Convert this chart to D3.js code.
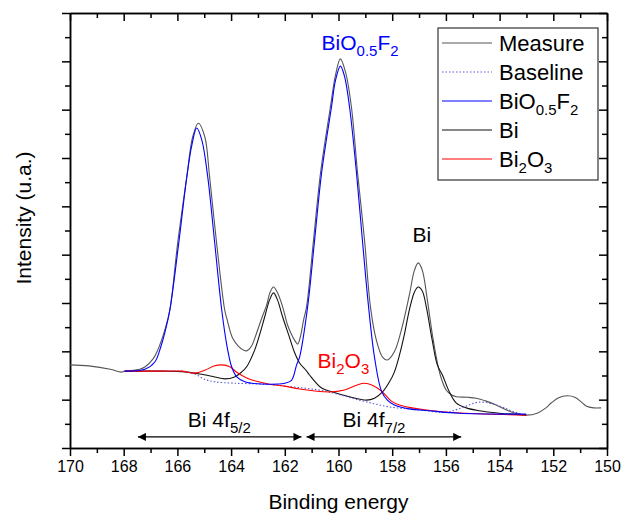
<!DOCTYPE html>
<html>
<head>
<meta charset="utf-8">
<script src="https://cdn.jsdelivr.net/npm/d3@7"></script>
<style>
  html, body { margin: 0; padding: 0; background: #fff; overflow: hidden; }
  svg { display: block; }
  text { font-family: "Liberation Sans", Arial, sans-serif; }
</style>
</head>
<body>
<svg id="svg_part"></svg>
<script>
const svg_width = 624;
const svg_height = 517;

// [binding energy, intensity]
const measure = [[170.0,1.72],[169.3,1.70],[168.5,1.63],[168.1,1.57],[167.96,1.59],[167.4,1.63],[167.2,1.68],[166.9,1.85],
  [166.73,2.03],[166.47,2.44],[166.28,2.86],[165.99,4.24],[165.65,5.61],[165.43,6.44],[165.22,6.72],[164.98,6.44],
  [164.80,5.61],[164.54,4.24],[164.24,2.86],[164.16,2.68],[163.95,2.28],[163.75,2.12],[163.55,2.03],[163.42,2.01],
  [163.25,2.10],[163.05,2.38],[162.85,2.70],[162.68,2.95],[162.55,3.22],[162.42,3.33],[162.28,3.22],[162.08,2.92],
  [161.9,2.55],[161.75,2.35],[161.6,2.20],[161.52,2.15],[161.42,2.30],[161.30,2.65],[161.19,2.92],[160.93,4.30],
  [160.67,5.69],[160.30,7.06],[160.11,7.72],[159.93,8.05],[159.74,7.78],[159.52,7.06],[159.29,5.69],[159.03,4.30],
  [158.81,2.92],[158.59,2.23],[158.36,1.88],[158.18,1.82],[157.92,1.99],[157.66,2.44],[157.36,3.17],[157.17,3.68],
  [157.03,3.83],[156.88,3.68],[156.69,3.06],[156.47,2.23],[156.21,1.51],[155.99,1.20],[155.8,1.10],[155.61,1.06],
  [155.2,1.05],[154.87,1.03],[154.5,0.97],[154.13,0.89],[153.8,0.80],[153.53,0.74],[153.01,0.68],[152.60,0.72],
  [152.3,0.82],[152.08,0.93],[151.8,1.04],[151.49,1.08],[151.2,1.05],[150.95,0.95],[150.78,0.87],[150.5,0.83],[150.22,0.83]];

const baseline = [[167.96,1.59],[166.5,1.59],[165.84,1.59],[165.35,1.53],[164.98,1.42],[164.61,1.37],[163.87,1.34],
  [162.75,1.32],[161.64,1.26],[160.52,1.18],[159.22,0.99],[158.10,0.85],[156.99,0.79],[155.99,0.74],[155.32,0.85],
  [154.76,0.95],[154.01,0.87],[153.53,0.76],[153.01,0.68]];

const bio = [[167.96,1.59],[167.21,1.63],[166.84,1.78],[166.62,2.09],[166.47,2.38],[166.28,2.86],[165.95,4.24],
  [165.65,5.61],[165.46,6.27],[165.28,6.62],[165.09,6.37],[164.87,5.61],[164.61,4.24],[164.35,2.86],[164.16,2.13],
  [163.98,1.68],[163.79,1.47],[163.49,1.37],[163.23,1.34],[162.57,1.32],[162.01,1.34],[161.75,1.40],[161.56,1.72],
  [161.45,1.88],[161.15,2.92],[160.89,4.30],[160.63,5.69],[160.26,7.06],[160.11,7.61],[159.93,7.90],[159.78,7.70],
  [159.59,7.06],[159.33,5.69],[159.11,4.30],[158.88,2.92],[158.66,1.88],[158.40,1.18],[158.18,0.99],[157.92,0.89],
  [157.36,0.81],[156.62,0.77],[155.50,0.72],[153.01,0.70]];

const bi = [[167.96,1.59],[166.5,1.59],[165.84,1.58],[165.17,1.53],[164.61,1.47],[164.24,1.43],[163.87,1.47],
  [163.61,1.57],[163.42,1.68],[163.12,2.03],[162.94,2.34],[162.75,2.71],[162.57,3.06],[162.42,3.21],[162.27,3.06],
  [162.08,2.71],[161.85,2.33],[161.64,1.98],[161.45,1.76],[161.2,1.60],[161.08,1.51],[160.63,1.24],[160.22,1.16],
  [159.59,1.06],[158.96,0.99],[158.66,1.03],[158.36,1.16],[158.10,1.37],[157.92,1.57],[157.73,1.92],[157.55,2.34],
  [157.36,2.86],[157.17,3.23],[157.03,3.33],[156.88,3.25],[156.73,2.92],[156.51,2.23],[156.32,1.72],[156.13,1.51],
  [155.87,1.16],[155.61,0.93],[155.24,0.83],[154.76,0.77],[154.01,0.72],[153.01,0.68]];

const bi2o3 = [[167.96,1.59],[166.5,1.59],[165.84,1.59],[165.35,1.55],[164.98,1.61],[164.61,1.70],[164.35,1.72],
  [164.05,1.68],[163.75,1.55],[163.42,1.45],[163.12,1.39],[162.57,1.32],[162.01,1.28],[161.45,1.22],[160.33,1.16],
  [159.78,1.20],[159.33,1.30],[159.03,1.34],[158.74,1.30],[158.40,1.18],[158.03,0.97],[157.73,0.89],[156.51,0.77],
  [155.24,0.72],[153.01,0.68]];

const xTicks = [170, 168, 166, 164, 162, 160, 158, 156, 154, 152, 150];
const legendNames = ['Measure', 'Baseline', 'BiO0.5F2', 'Bi', 'Bi2O3'];

const svg = d3.select('#svg_part')
	.attr('width', svg_width)
	.attr('height', svg_height);

const margin = {top: 13, right: 17, bottom: 69, left: 70};
const innerWidth = svg_width - margin.left - margin.right;
const innerHeight = svg_height - margin.top - margin.bottom;

const g = svg.append('g').attr('transform', `translate(${margin.left}, ${margin.top})`);

const x = d3.scaleLinear().domain([170, 150]).range([0, innerWidth]);
const y = d3.scaleLinear().domain([0, 9]).range([innerHeight, 0]);

const minorX = d3.range(151, 170, 2);
const majorY = d3.range(0, 10, 1);
const minorY = d3.range(0.5, 9, 1);

// axes: bottom/left ticks out, top/right ticks in
function styleAxis(sel){
	sel.selectAll('path').attr('stroke', '#000').attr('stroke-width', 1.5);
	sel.selectAll('line').attr('stroke', '#000').attr('stroke-width', 1.5);
	sel.selectAll('text').attr('font-size', '16px').attr('fill', '#000')
		.attr('font-family', '"Liberation Sans", Arial, sans-serif');
}
function noLabels(sel){
	styleAxis(sel);
	sel.selectAll('text').remove();
}
g.append('g').attr('transform', `translate(0, ${innerHeight})`)
	.call(d3.axisBottom(x).tickValues(xTicks).tickSize(8).tickSizeOuter(0).tickPadding(5).tickFormat(d3.format('d')))
	.call(styleAxis);
g.append('g').attr('transform', `translate(0, ${innerHeight})`)
	.call(d3.axisBottom(x).tickValues(minorX).tickSize(5).tickSizeOuter(0))
	.call(noLabels);
g.append('g')
	.call(d3.axisTop(x).tickValues(xTicks).tickSize(-8).tickSizeOuter(0))
	.call(noLabels);
g.append('g')
	.call(d3.axisTop(x).tickValues(minorX).tickSize(-5).tickSizeOuter(0))
	.call(noLabels);
g.append('g')
	.call(d3.axisLeft(y).tickValues(majorY).tickSize(8).tickSizeOuter(0))
	.call(noLabels);
g.append('g')
	.call(d3.axisLeft(y).tickValues(minorY).tickSize(5).tickSizeOuter(0))
	.call(noLabels);
g.append('g').attr('transform', `translate(${innerWidth}, 0)`)
	.call(d3.axisRight(y).tickValues(majorY).tickSize(-8).tickSizeOuter(0))
	.call(noLabels);
g.append('g').attr('transform', `translate(${innerWidth}, 0)`)
	.call(d3.axisRight(y).tickValues(minorY).tickSize(-5).tickSizeOuter(0))
	.call(noLabels);

// curves
const line = d3.line()
	.x(d => x(d[0]))
	.y(d => y(d[1]))
	.curve(d3.curveCatmullRom.alpha(0.5));

const series = [
	{data: measure, color: '#555555', dash: null},
	{data: bi, color: '#111111', dash: null},
	{data: baseline, color: '#5a5ad8', dash: '1.5,2'},
	{data: bi2o3, color: '#ff0000', dash: null},
	{data: bio, color: '#0000ff', dash: null}
];
series.forEach(s => {
	g.append('path')
		.datum(s.data)
		.attr('d', line)
		.attr('fill', 'none')
		.attr('stroke', s.color)
		.attr('stroke-width', 1.1)
		.attr('stroke-dasharray', s.dash);
});

// subscript helper
function subText(sel, parts, size, subSize){
	parts.forEach(p => {
		sel.append('tspan')
			.attr('font-size', p.sub ? subSize : size)
			.attr('dy', p.dy || 0)
			.text(p.t);
	});
}
const bioParts = [{t: 'BiO'}, {t: '0.5', sub: true, dy: 6}, {t: 'F', dy: -6}, {t: '2', sub: true, dy: 6}];
const bi2o3Parts = [{t: 'Bi'}, {t: '2', sub: true, dy: 6}, {t: 'O', dy: -6}, {t: '3', sub: true, dy: 6}];

// peak labels
subText(g.append('text').attr('x', x(160.63)).attr('y', y(8.24)).attr('fill', '#0000ff'), bioParts, '21px', '15px');
g.append('text').attr('x', x(156.90)).attr('y', y(4.26)).attr('text-anchor', 'middle')
	.attr('font-size', '21px').attr('fill', '#000').text('Bi');
subText(g.append('text').attr('x', x(160.78)).attr('y', y(1.66)).attr('fill', '#ff0000'), bi2o3Parts, '21px', '15px');
subText(g.append('text').attr('x', x(165.61)).attr('y', y(0.43)).attr('fill', '#000'),
	[{t: 'Bi 4f'}, {t: '5/2', sub: true, dy: 6}], '21px', '15px');
subText(g.append('text').attr('x', x(159.85)).attr('y', y(0.43)).attr('fill', '#000'),
	[{t: 'Bi 4f'}, {t: '7/2', sub: true, dy: 6}], '21px', '15px');

// double arrows
const defs = svg.append('defs');
defs.append('marker').attr('id', 'arr').attr('viewBox', '0 0 10 10').attr('refX', 10).attr('refY', 5)
	.attr('markerWidth', 10).attr('markerHeight', 8).attr('markerUnits', 'userSpaceOnUse').attr('orient', 'auto-start-reverse')
	.append('path').attr('d', 'M0,0 L10,5 L0,10 Z').attr('fill', '#000');
const arrows = [[167.47, 161.38], [161.19, 155.43]];
arrows.forEach(a => {
	g.append('line')
		.attr('x1', x(a[0])).attr('x2', x(a[1]))
		.attr('y1', y(0.23)).attr('y2', y(0.23))
		.attr('stroke', '#000').attr('stroke-width', 1.1)
		.attr('marker-start', 'url(#arr)').attr('marker-end', 'url(#arr)');
});

// legend
const lg = svg.append('g').attr('transform', 'translate(438, 28)');
lg.append('rect').attr('width', 160).attr('height', 152)
	.attr('fill', '#fff').attr('stroke', '#333').attr('stroke-width', 1.2);
const legendColors = ['#555555', '#5a5ad8', '#0000ff', '#111111', '#ff0000'];
legendNames.forEach((name, i) => {
	const ly = 15 + i * 29;
	lg.append('line').attr('x1', 4).attr('x2', 54).attr('y1', ly).attr('y2', ly)
		.attr('stroke', legendColors[i]).attr('stroke-width', 1.1)
		.attr('stroke-dasharray', name === 'Baseline' ? '1.5,2' : null);
	const t = lg.append('text').attr('x', 61).attr('y', ly + 8).attr('fill', '#000').attr('font-size', '22px');
	if (name === 'BiO0.5F2') subText(t, bioParts, '22px', '15px');
	else if (name === 'Bi2O3') subText(t, bi2o3Parts, '22px', '15px');
	else t.text(name);
});

// axis titles
svg.append('text').attr('x', margin.left + innerWidth / 2).attr('y', 509)
	.attr('text-anchor', 'middle').attr('font-size', '21px').attr('fill', '#000').text('Binding energy');
svg.append('text').attr('transform', 'translate(31, 218) rotate(-90)')
	.attr('text-anchor', 'middle').attr('font-size', '21px').attr('fill', '#000').text('Intensity (u.a.)');
</script>
</body>
</html>
